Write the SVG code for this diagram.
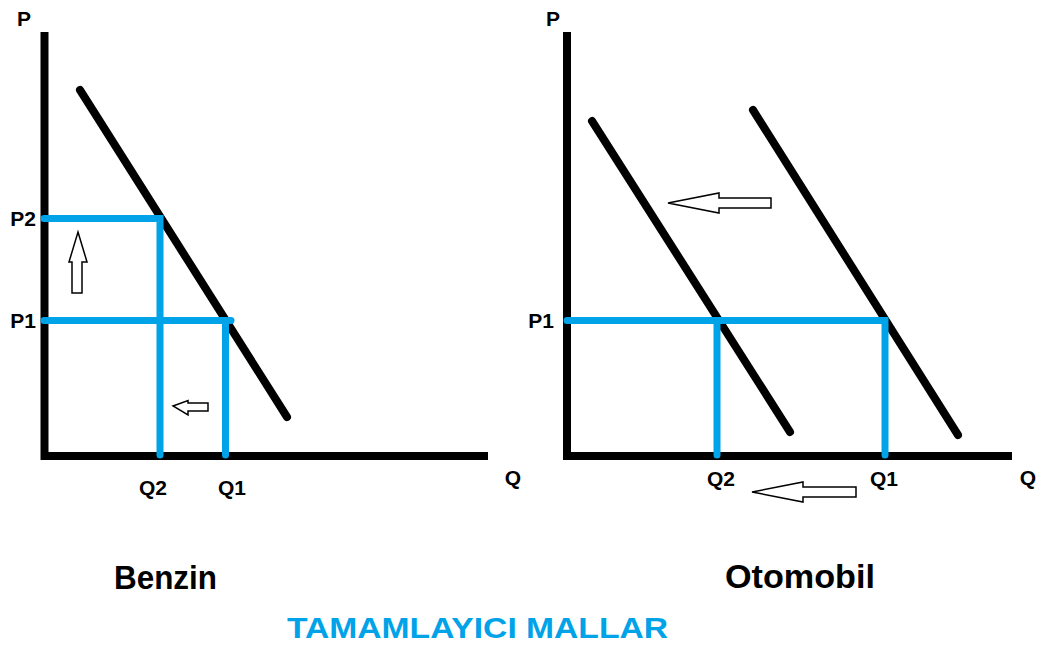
<svg xmlns="http://www.w3.org/2000/svg" width="1041" height="647" viewBox="0 0 1041 647">
<style>
.axis{stroke:#000;stroke-width:8;fill:none;stroke-linecap:butt}
.curve{stroke:#000;stroke-width:8;fill:none;stroke-linecap:round}
.blue{stroke:#00A2E8;stroke-width:7;fill:none;stroke-linecap:round}
.arrow{fill:#fff;stroke:#000;stroke-width:1.5;stroke-linejoin:miter}
.lbl{font-family:"Liberation Sans",Arial,sans-serif;font-weight:bold;font-size:21px;fill:#000;text-anchor:middle}
.title{font-family:"Liberation Sans",Arial,sans-serif;font-weight:bold;font-size:33px;fill:#000}
.main{font-family:"Liberation Sans",Arial,sans-serif;font-weight:bold;font-size:29px;fill:#00A2E8}
</style>
<rect width="1041" height="647" fill="#fff"/>
<g id="benzin-chart">
  <g id="benzin-axes">
    <path class="axis" d="M44.5,32 V456 H488"/>
  </g>
  <g id="benzin-demand">
    <line class="curve" x1="80" y1="90" x2="287" y2="417"/>
  </g>
  <g id="benzin-guides">
    <path class="blue" d="M44,218.5 H160 V455"/>
    <path class="blue" d="M44,320.5 H231"/>
    <path class="blue" d="M225.5,320.5 V455"/>
  </g>
  <g id="benzin-arrows">
    <polygon class="arrow" points="78,232 87,262 82,262 82,293 72,293 72,262 69,262"/>
    <polygon class="arrow" points="173,406 188,400.5 188,403 208,403 208,411 188,411 188,415"/>
  </g>
  <g id="benzin-labels">
    <text class="lbl" x="24" y="26">P</text>
    <text class="lbl" x="23" y="226">P2</text>
    <text class="lbl" x="23" y="328">P1</text>
    <text class="lbl" x="153" y="495">Q2</text>
    <text class="lbl" x="232" y="495">Q1</text>
    <text class="lbl" x="513" y="485">Q</text>
    <text class="title" x="114" y="589" textLength="103" lengthAdjust="spacingAndGlyphs">Benzin</text>
  </g>
</g>
<g id="otomobil-chart">
  <g id="otomobil-axes">
    <path class="axis" d="M567,32 V456 H1012"/>
  </g>
  <g id="otomobil-demand">
    <line class="curve" x1="592" y1="121" x2="790" y2="432"/>
    <line class="curve" x1="753" y1="110" x2="958" y2="435"/>
  </g>
  <g id="otomobil-guides">
    <path class="blue" d="M567,320.5 H885 V455"/>
    <path class="blue" d="M717,320.5 V455"/>
  </g>
  <g id="otomobil-arrows">
    <polygon class="arrow" points="668,203 719,193 719,198 771,198 771,208 719,208 719,213"/>
    <polygon class="arrow" points="752,492 803,482 803,487 856,487 856,497 803,497 803,502"/>
  </g>
  <g id="otomobil-labels">
    <text class="lbl" x="553" y="26">P</text>
    <text class="lbl" x="541" y="328">P1</text>
    <text class="lbl" x="721" y="486">Q2</text>
    <text class="lbl" x="884" y="486">Q1</text>
    <text class="lbl" x="1028" y="485">Q</text>
    <text class="title" x="725" y="588" textLength="150" lengthAdjust="spacingAndGlyphs">Otomobil</text>
  </g>
</g>
<g id="caption">
  <text class="main" x="287" y="638" textLength="381" lengthAdjust="spacingAndGlyphs">TAMAMLAYICI MALLAR</text>
</g>
</svg>
